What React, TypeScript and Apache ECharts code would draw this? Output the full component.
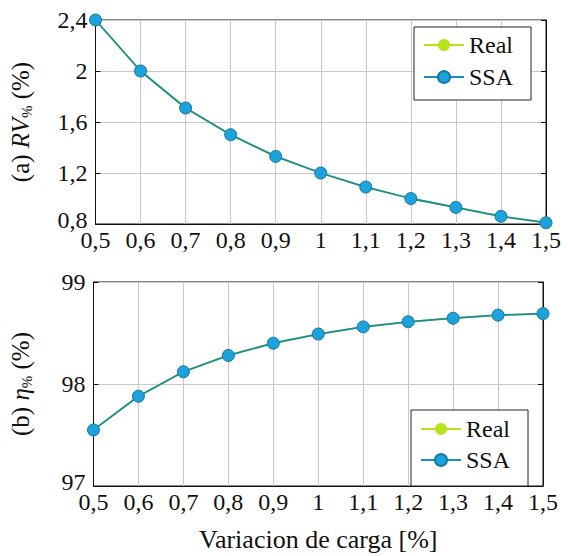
import React, { useEffect, useRef } from "react";
import * as echarts from "echarts";

const xValues = [0.5, 0.6, 0.7, 0.8, 0.9, 1.0, 1.1, 1.2, 1.3, 1.4, 1.5];
const rvReal = [2.4, 2.0, 1.71, 1.5, 1.33, 1.2, 1.09, 1.0, 0.93, 0.86, 0.81];
const rvSSA = [2.4, 2.0, 1.71, 1.5, 1.33, 1.2, 1.09, 1.0, 0.93, 0.86, 0.81];
const etaReal = [97.55, 97.88, 98.12, 98.28, 98.4, 98.49, 98.56, 98.61, 98.645, 98.675, 98.69];
const etaSSA = [97.55, 97.88, 98.12, 98.28, 98.4, 98.49, 98.56, 98.61, 98.645, 98.675, 98.69];
const legendNames = ["Real", "SSA"];
const xAxisTitle = "Variacion de carga [%]";

const FONT = "Liberation Serif";
const REAL_COLOR = "#b5e31c";
const SSA_LINE = "#1a8a9e";
const SSA_FILL = "#1ca2dc";
const SSA_BORDER = "#1879a3";

const fmt = (v: number) => String(+v.toFixed(2)).replace(".", ",");

export default function App() {
  const ref = useRef<HTMLDivElement>(null);
  useEffect(() => {
    if (!ref.current) return;
    const chart = echarts.init(ref.current, null, { renderer: "svg" });
    const pairs = (ys: number[]) => xValues.map((x, i) => [x, ys[i]]);
    const grids = [
      { left: 94, right: 22, top: 20, height: 204 },
      { left: 92, right: 25, top: 282, height: 204 },
    ];
    const mkX = (gi: number, withName: boolean) => ({
      type: "value",
      gridIndex: gi,
      min: 0.5,
      max: 1.5,
      interval: 0.1,
      axisLine: { show: true, lineStyle: { color: "#111", width: 1 } },
      axisTick: { show: false },
      axisLabel: { fontFamily: FONT, fontSize: 24, color: "#111", margin: 4, formatter: fmt },
      splitLine: { show: true, lineStyle: { color: "#c8c8c8", width: 1 } },
      name: withName ? xAxisTitle : "",
      nameLocation: "middle",
      nameGap: 40,
      nameTextStyle: { fontFamily: FONT, fontSize: 26, color: "#111" },
    });
    const richName = {
      n: { fontFamily: FONT, fontSize: 25, color: "#111", lineHeight: 28 },
      i: { fontFamily: FONT, fontSize: 25, fontStyle: "italic", color: "#111", lineHeight: 28 },
      s: { fontFamily: FONT, fontSize: 15, color: "#111", lineHeight: 15, verticalAlign: "bottom" },
    };
    const mkY = (gi: number, min: number, max: number, interval: number, name: string, gap: number) => ({
      type: "value",
      gridIndex: gi,
      min,
      max,
      interval,
      axisLine: { show: true, lineStyle: { color: "#111", width: 1 } },
      axisTick: { show: true, inside: true, length: 5, lineStyle: { color: "#111" } },
      axisLabel: {
        fontFamily: FONT,
        fontSize: 24,
        color: "#111",
        margin: 8,
        formatter: (v: number) => (Math.abs(v - min) < 1e-9 ? "{lo|" + fmt(v) + "}" : fmt(v)),
        rich: { lo: { fontFamily: FONT, fontSize: 24, color: "#111", padding: [0, 0, 8, 0] } },
      },
      splitLine: { show: true, lineStyle: { color: "#c8c8c8", width: 1 } },
      name,
      nameLocation: "middle",
      nameGap: gap,
      nameTextStyle: { fontFamily: FONT, fontSize: 25, color: "#111", rich: richName },
    });
    const mkYRight = (gi: number, min: number, max: number, interval: number) => ({
      type: "value",
      gridIndex: gi,
      position: "right",
      min,
      max,
      interval,
      axisLine: { show: true, lineStyle: { color: "#111", width: 1 } },
      axisTick: { show: true, inside: true, length: 5, lineStyle: { color: "#111" } },
      axisLabel: { show: false },
      splitLine: { show: false },
    });
    const realSeries = (xi: number, yi: number, data: number[]) => ({
      name: "Real",
      type: "line",
      xAxisIndex: xi,
      yAxisIndex: yi,
      data: pairs(data),
      symbol: "circle",
      symbolSize: 12,
      lineStyle: { color: REAL_COLOR, width: 1.8 },
      itemStyle: { color: REAL_COLOR },
      z: 2,
    });
    const ssaSeries = (xi: number, yi: number, data: number[]) => ({
      name: "SSA",
      type: "line",
      xAxisIndex: xi,
      yAxisIndex: yi,
      data: pairs(data),
      symbol: "circle",
      symbolSize: 12,
      lineStyle: { color: SSA_LINE, width: 1.8 },
      itemStyle: { color: SSA_FILL, borderColor: SSA_BORDER, borderWidth: 1 },
      z: 3,
    });
    const mkLegend = (left: number, top: number, padding: number[], gap: number) => ({
      orient: "vertical",
      left,
      top,
      padding,
      itemGap: gap,
      itemWidth: 40,
      itemHeight: 15,
      backgroundColor: "#fff",
      borderColor: "#222",
      borderWidth: 1,
      textStyle: { fontFamily: FONT, fontSize: 24, color: "#111" },
      data: [
        { name: legendNames[0] },
        { name: legendNames[1], lineStyle: { color: "#1a8fc4" } },
      ],
    });
    chart.setOption({
      animation: false,
      grid: grids.map((g) => ({ ...g, show: true, borderColor: "#111", borderWidth: 1 })),
      xAxis: [mkX(0, false), mkX(1, true)],
      yAxis: [
        mkY(0, 0.8, 2.4, 0.4, "{n|(a) }{i|RV}{s|%}{n| (%)}", 61),
        mkYRight(0, 0.8, 2.4, 0.4),
        mkY(1, 97, 99, 1, "{n|(b) }{i|η}{s|%}{n| (%)}", 59),
        mkYRight(1, 97, 99, 1),
      ],
      legend: [mkLegend(414, 27, [6, 18, 11, 9], 8), mkLegend(411, 410, [7, 18, 14, 9], 7)],
      series: [
        realSeries(0, 0, rvReal),
        ssaSeries(0, 0, rvSSA),
        realSeries(1, 2, etaReal),
        ssaSeries(1, 2, etaSSA),
      ],
    });
    return () => chart.dispose();
  }, []);
  return (
    <div
      ref={ref}
      style={{ position: "fixed", left: 0, top: 0, width: 568, height: 556, background: "#fff" }}
    />
  );
}
